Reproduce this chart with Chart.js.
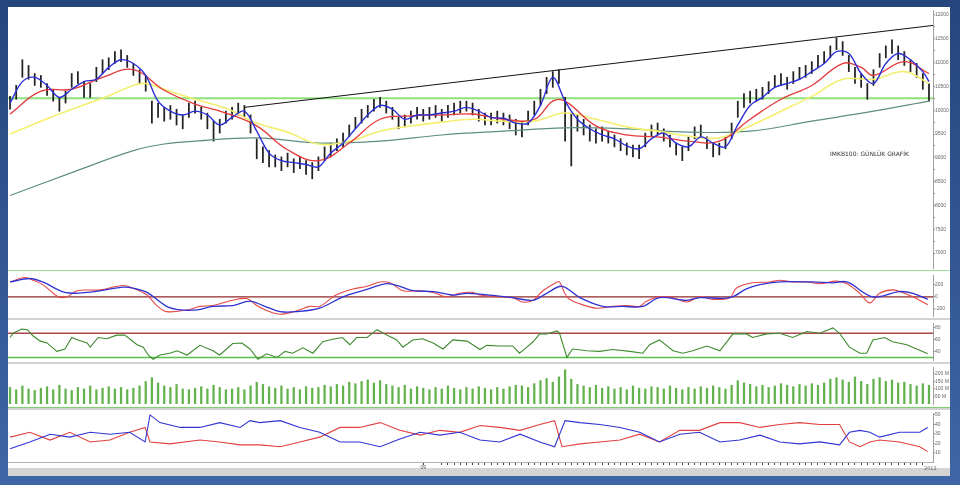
<!DOCTYPE html>
<html><head><meta charset="utf-8">
<script src="https://cdn.jsdelivr.net/npm/chart.js@4"></script>
<style>
body{margin:0;width:960px;height:485px;overflow:hidden;background:linear-gradient(#25467c,#3e66a6);font-family:"DejaVu Sans",sans-serif;position:relative;}
#frame{position:absolute;left:8px;top:7px;width:942px;height:461px;background:#fff;}
#strip{position:absolute;left:8px;top:468px;width:942px;height:8px;background:#d4d4d4;}
.pane{position:absolute;left:8px;}
.sep{position:absolute;left:8px;width:942px;}
.txt{position:absolute;color:#333;white-space:nowrap;}
</style></head><body>
<div id="frame"></div>
<div id="strip"></div>
<canvas class="pane" id="cMain" width="942" height="265" style="top:7px"></canvas>
<canvas class="pane" id="cMacd" width="942" height="47" style="top:272px"></canvas>
<canvas class="pane" id="cRsi" width="942" height="43" style="top:320px"></canvas>
<canvas class="pane" id="cVol" width="942" height="43" style="top:364px"></canvas>
<canvas class="pane" id="cDmi" width="942" height="60" style="top:410px"></canvas>
<div class="sep" style="top:270px;height:1px;background:#9fe39a"></div>
<div class="sep" style="top:318px;height:2px;background:#d2d2d2"></div>
<div class="sep" style="top:362px;height:2px;background:#d2d2d2"></div>
<div class="sep" style="top:407px;height:1px;background:#7fcf70"></div>
<div class="sep" style="top:408px;height:2px;background:#d2d2d2"></div>
<div class="txt" id="title" style="left:830px;top:150px;font-size:6px;">IMKB100: GÜNLÜK GRAFİK</div>
<div class="txt" style="left:924px;top:465px;font-size:5px;color:#666">2012</div>
<script>
// ---------- DATA ----------
const highs = [10290,10520,11060,10940,10770,10730,10560,10440,10270,10400,
10770,10810,10600,10560,10900,11060,11100,11230,11270,11150,
10980,10850,10730,10190,10150,10060,10100,10020,9900,10150,
10190,10060,9940,9770,9810,9980,10060,10150,10100,9900,
9400,9230,9150,9060,9020,9100,8980,9020,8940,8900,
9020,9230,9310,9400,9520,9690,9850,10020,10100,10230,
10270,10190,10060,9850,9900,9980,10060,10020,10060,10100,
10020,10100,10150,10190,10190,10150,10020,9940,9940,9980,
9940,9900,9810,9770,9980,10190,10440,10690,10810,10850,
10270,9940,9900,9810,9690,9610,9650,9560,9480,9400,
9310,9270,9270,9520,9690,9730,9610,9480,9310,9230,
9440,9650,9690,9440,9310,9310,9440,9730,10190,10350,
10400,10440,10480,10600,10730,10770,10690,10810,10900,10940,
11020,11150,11230,11350,11520,11440,11150,10900,10770,10560,
10850,11190,11350,11480,11350,11230,11060,10980,10770,10560];
const lows = [10020,10230,10690,10650,10520,10480,10310,10190,9980,10150,
10480,10560,10270,10270,10600,10770,10850,10980,11020,10900,
10730,10560,10400,9730,9850,9770,9810,9690,9610,9850,
9940,9810,9610,9350,9520,9730,9810,9900,9850,9520,
8980,8900,8810,8810,8730,8810,8690,8770,8650,8560,
8730,8940,9020,9150,9230,9440,9610,9730,9850,9980,
10060,9940,9810,9610,9650,9730,9810,9770,9810,9850,
9770,9850,9900,9940,9980,9900,9770,9690,9690,9730,
9690,9610,9480,9440,9690,9900,10100,10350,10480,10560,
9350,8830,9560,9480,9350,9310,9350,9310,9230,9150,
9060,9020,8980,9230,9440,9480,9350,9230,9060,8940,
9150,9400,9440,9190,9020,9060,9190,9400,9850,10060,
10150,10190,10230,10350,10480,10520,10440,10560,10650,10690,
10770,10900,10980,11100,11270,11150,10810,10560,10480,10230,
10520,10900,11100,11190,11060,10940,10810,10690,10440,10190];
const maShortIdx = [0,2,4,6,8,10,12,14,16,18,20,22,24,26,28,30,32,34,36,38,40,42,44,46,48,50,52,54,56,58,60,62,64,66,68,70,72,74,76,78,80,82,84,86,88,90,92,94,96,98,100,102,104,106,108,110,112,114,116,118,120,122,124,126,128,130,132,134,136,138,140,142,144,146,148,149];
const maShort = [10150,10600,10690,10520,10270,10440,10600,10650,10900,11060,10980,10730,10190,9980,9900,9980,9900,9690,9850,9980,9560,9100,8940,8900,8860,8810,9100,9310,9610,9900,10100,10020,9810,9900,9900,9940,9980,10060,9980,9850,9830,9730,9730,10100,10690,10190,9810,9610,9480,9400,9250,9190,9400,9520,9310,9230,9440,9310,9230,9690,10100,10270,10480,10560,10650,10810,10980,11230,11190,10770,10560,10980,11190,11060,10810,10600];
const maMidIdx = [0,5,10,15,20,25,30,35,40,45,50,55,60,65,70,75,80,85,88,90,95,100,105,110,115,120,125,130,135,138,140,145,149];
const maMid = [9920,10400,10440,10690,10850,10420,10130,9940,9670,9170,8940,9310,9810,9880,9900,9920,9810,9810,10190,10190,9670,9480,9440,9350,9350,9810,10230,10520,10980,10900,10730,11020,10770];
const maSlowIdx = [0,5,10,15,20,22,25,30,35,40,45,50,55,60,65,70,75,80,85,90,95,100,105,110,115,120,125,130,135,140,145,149];
const maSlow = [9500,9770,10020,10250,10520,10560,10440,10230,10040,9730,9540,9290,9350,9560,9670,9750,9810,9770,9770,9940,9810,9650,9560,9460,9420,9670,9980,10290,10650,10650,10810,10560];
const maLongIdx = [0,10,20,25,30,40,50,60,70,80,90,100,110,120,130,140,149];
const maLong = [8210,8690,9150,9290,9350,9420,9310,9350,9480,9560,9630,9610,9540,9560,9770,9980,10190];
const supportLevel = 10250;
const trendIdx = [38,149.65];
const trendVal = [10060,11780];
const priceTicks = [12000,11500,11000,10500,10000,9500,9000,8500,8000,7500,7000];

const macdIdx = [0,2.4,3.7,5.3,7.8,9.2,10.9,14.6,18.3,19.9,22.2,23.8,25.4,28.7,30.8,32.9,36.1,38.4,40,41.7,43.8,46.5,48.6,50.2,52.4,53.5,55.6,57.9,60,61.6,63.7,66.5,68.6,70.8,72.9,75,76.2,79.4,81.5,83.1,84.8,86.4,88.7,89.1,90.4,92.4,95.1,97.7,100,102.1,103.2,105.3,107.5,109.7,111.8,113.9,116.7,117.8,120.4,123.2,124.8,126.9,129.2,131.3,134,135.7,137.8,139.4,141,143.1,144.7,146.4,148.8];
const macd = [243,315,272,200,0,0,100,114,186,143,29,-143,-243,-215,-157,-143,-57,-29,-143,-229,-286,-229,-157,-157,0,57,129,172,243,229,100,100,72,0,57,72,29,0,-14,-86,-57,100,243,243,-14,-114,-186,-157,-143,-157,-72,0,-14,-86,0,-43,-14,143,229,243,272,243,243,215,257,215,57,-100,57,114,72,0,-129];
const signalIdx = [0,3.2,5.3,8.9,12.5,18.3,19.9,22.2,25.4,27.6,30.3,32.9,36.1,38.9,41,43.8,46.5,50.2,54,57.2,61.1,63.2,65.3,68.6,71.8,74.1,76.2,81.5,84.8,87,89.5,92.4,96.1,99.4,102.6,105.3,109.7,111.8,116.7,119.4,121.6,124.8,130.1,133.4,135.7,139.9,144.2,146.4,148.8];
const signal = [243,300,243,72,72,157,143,72,-157,-215,-215,-157,-143,-72,-143,-243,-243,-186,0,100,215,172,100,86,29,57,43,-14,-57,57,172,-14,-157,-157,-157,-14,-57,-14,-14,129,200,243,243,229,243,0,86,57,-43];
const macdTicks = [200,0,-200];

const rsiIdx = [0,0.5,1.9,2.8,3.7,4.9,6,7.6,8.9,10,11,12.5,13,14.3,15.7,17.3,18.6,20.6,21.6,22.4,23.2,24.3,25.9,27.1,28.7,30.8,32.9,34,36.1,37.6,38.9,40.2,41.6,43.3,44.6,45.8,47.5,49.1,50.7,52.3,53.9,55.1,56.2,57.9,59.5,61.1,62.7,63.7,65.3,66.9,68.6,70.2,71.8,74.1,76.2,77.3,79.4,81.5,82.6,83.8,84.8,85.9,87,88.7,89.1,90.3,91.2,93.5,95.6,97.7,100.5,102.6,103.7,105.3,107.5,109.1,110.7,113,115.1,117.2,119.4,120.4,122.7,124.8,126.9,129.2,131.3,133.4,134.5,136.1,137.8,138.9,139.9,141.8,143.1,145.4,147,148.8];
const rsi = [63,70,77,76,66,57,54,40,44,63,59,54,47,63,61,67,67,51,47,34,27,34,37,41,34,50,41,34,53,54,44,27,36,30,40,37,46,37,56,60,63,51,63,63,76,67,59,47,59,61,54,44,59,57,43,50,49,49,37,47,56,69,69,74,70,30,44,41,40,43,40,37,51,59,41,37,41,49,41,69,69,63,69,70,63,73,70,79,70,47,37,37,59,63,56,51,44,36];
const rsiUpper = 70, rsiLower = 30;
const rsiTicks = [80,60,40];

const volume = [110,95,120,100,90,105,115,95,125,100,
90,110,100,120,95,105,115,100,110,95,
105,120,150,175,140,120,110,130,100,95,
105,115,100,125,110,95,100,110,95,120,
145,130,115,105,120,100,110,95,115,105,
110,125,115,130,120,145,135,150,160,140,
155,130,120,110,125,100,115,105,95,110,
100,120,105,95,110,100,115,105,95,110,
100,115,125,120,110,135,155,170,145,180,
228,165,130,120,110,125,105,115,100,110,
95,120,105,100,115,110,100,120,105,95,
110,100,115,105,120,110,100,125,155,140,
130,115,125,110,120,135,125,115,130,120,
135,125,140,165,175,160,145,180,150,130,
165,175,150,160,140,145,130,120,135,125];
const volTicks = [200,150,100,50];

const diPlusIdx = [0,3.2,6.5,9.7,13,16.2,19.4,21.9,22.7,24.3,27.6,30.8,34,37.3,38.9,40.5,43.8,47,50.2,53.5,56.7,60,63.2,66.5,69.7,72.9,76.2,79.4,82.7,85.9,88.3,90,92.4,95.6,98.9,102.1,105.3,108.6,111.8,115.1,118.3,121.6,124.8,128,131.3,134.5,136.1,137.8,139.4,141,144.2,147.5,148.8];
const diPlus = [14.1,21.3,29.5,26.4,31.5,29.5,31.5,21.3,50,41.8,36.7,36.7,41.8,36.7,43.9,41.8,43.9,36.7,31.5,21.3,21.3,16.2,24.4,31.5,28.5,31.5,23.3,21.3,29.5,21.3,16.2,43.9,41.8,39.8,36.7,31.5,21.3,29.5,31.5,21.3,23.3,28.5,21.3,19.2,21.3,18.2,31.5,33.6,31.5,26.4,31.5,31.5,36.7];
const diMinusIdx = [0,3.2,6.5,9.7,13,16.2,19.4,21.9,22.7,25.9,30.8,34,37.3,40.5,43.8,47,50.2,53.5,56.7,60,63.2,66.5,69.7,72.9,76.2,79.4,82.7,85.9,88.3,89.5,92.4,95.6,98.9,102.1,105.3,108.6,111.8,115.1,118.3,121.6,124.8,128,131.3,134.5,136.1,137.8,139.4,141,144.2,147.5,148.8];
const diMinus = [26.4,31.5,23.3,31.5,21.3,23.3,31.5,36.7,21.3,19.2,23.3,21.3,18.2,18.2,16.2,21.3,26.4,36.7,36.7,41.8,33.6,28.5,33.6,31.5,38.7,36.7,33.6,39.8,43.9,16.2,19.2,21.3,23.3,29.5,21.3,33.6,33.6,41.8,41.8,36.7,39.8,41.8,39.8,39.8,21.3,16.2,21.3,23.3,21.3,16.2,11];
const dmiTicks = [50,40,30,20,10];
const xLabelIdx = [67];
const xLabelText = ['09'];

// ---------- HELPERS ----------
const X_MIN = -0.33, X_MAX = 149.65;
const pts = (idx, vals) => idx.map((x, i) => ({x, y: vals[i]}));
const flat = v => [{x: X_MIN, y: v}, {x: X_MAX, y: v}];
const FONT = {size: 5, family: 'Liberation Sans'};
function xAxis(show) {
  return {type: 'linear', min: X_MIN, max: X_MAX, offset: false, display: show,
    grid: {display: false}, ticks: {display: false}};
}
function yAxis(min, max, ticks, fmt) {
  return {position: 'right', min, max,
    afterBuildTicks: s => { s.ticks = ticks.map(v => ({value: v})); },
    afterFit: s => { s.width = 17; },
    border: {display: true, color: '#a0a0a0'},
    grid: {drawOnChartArea: false, drawTicks: true, tickLength: 2, color: '#8a8a8a'},
    ticks: {font: FONT, color: '#666', padding: 0, autoSkip: false, maxRotation: 0, callback: fmt}};
}
const base = {responsive: false, animation: false, events: [],
  plugins: {legend: {display: false}, tooltip: {enabled: false}},
  layout: {padding: 0}};
const line = (data, color, w, order, tension) => ({type: 'line', data, borderColor: color, borderWidth: w,
  pointRadius: 0, tension: tension || 0, order, fill: false});

// ---------- MAIN PRICE PANE ----------
const minorPrice = [];
for (let k = 0; k < priceTicks.length - 1; k++) minorPrice.push((priceTicks[k] + priceTicks[k + 1]) / 2);
new Chart(document.getElementById('cMain'), {
  type: 'bar',
  data: {datasets: [
    line(flat(supportLevel), '#8fe07f', 2, 9),
    {type: 'bar', data: highs.map((h, i) => ({x: i, y: [lows[i], h]})), backgroundColor: '#222',
      barThickness: 1.1, grouped: false, order: 6},
    line(pts(maLongIdx, maLong), '#5e8e80', 1.2, 5, 0.4),
    line(pts(maSlowIdx, maSlow), '#f4ef6e', 1.6, 4, 0.4),
    line(pts(maMidIdx, maMid), '#e5393a', 1.3, 3, 0.4),
    line(pts(maShortIdx, maShort), '#2b2fd6', 1.4, 2, 0.35),
    line(pts(trendIdx, trendVal), '#111', 1, 1)
  ]},
  options: Object.assign({}, base, {
    layout: {padding: {top: 1, bottom: 4}},
    scales: {x: xAxis(false),
      y: Object.assign(yAxis(6687, 12104, priceTicks.concat(minorPrice), v => priceTicks.includes(v) ? String(v) : ''))}
  })
});

// ---------- MACD PANE ----------
new Chart(document.getElementById('cMacd'), {
  type: 'line',
  data: {datasets: [
    line(flat(0), '#8e2a2a', 1.2, 5),
    line(pts(signalIdx, signal), '#2f33d4', 1.3, 2, 0.35),
    line(pts(macdIdx, macd), '#e54848', 1.1, 3, 0.35)
  ]},
  options: Object.assign({}, base, {scales: {x: xAxis(false), y: yAxis(-314, 357, macdTicks, v => String(v))}})
});

// ---------- RSI PANE ----------
new Chart(document.getElementById('cRsi'), {
  type: 'line',
  data: {datasets: [
    line(flat(rsiUpper), '#a84848', 1.5, 5),
    line(flat(rsiLower), '#5cc04f', 1.5, 5),
    line(pts(rsiIdx, rsi), '#3d8a2e', 1.1, 1)
  ]},
  options: Object.assign({}, base, {scales: {x: xAxis(false), y: yAxis(25.7, 87.1, rsiTicks, v => String(v))}})
});

// ---------- VOLUME PANE ----------
new Chart(document.getElementById('cVol'), {
  type: 'bar',
  data: {datasets: [
    {data: volume.map((v, i) => ({x: i, y: v})), backgroundColor: '#63b24d', barThickness: 1.6}
  ]},
  options: Object.assign({}, base, {scales: {x: xAxis(false), y: yAxis(0, 246, volTicks, v => v + ' M')}})
});

// ---------- DMI PANE ----------
const xTickList = [];
for (let k = 70; k <= 148; k++) xTickList.push(k);
new Chart(document.getElementById('cDmi'), {
  type: 'line',
  data: {datasets: [
    line(pts(diMinusIdx, diMinus), '#e24040', 1.1, 2),
    line(pts(diPlusIdx, diPlus), '#3035d2', 1.1, 1)
  ]},
  options: Object.assign({}, base, {scales: {
    x: {type: 'linear', min: X_MIN, max: X_MAX, offset: false, position: 'bottom',
      afterBuildTicks: s => { s.ticks = xLabelIdx.concat(xTickList).map(v => ({value: v})); },
      afterFit: s => { s.height = 8; },
      border: {display: true, color: '#b0b0b0'},
      grid: {drawOnChartArea: false, drawTicks: true, tickLength: 3, color: '#444'},
      ticks: {font: FONT, color: '#555', padding: 0, autoSkip: false, maxRotation: 0,
        callback: v => { const k = xLabelIdx.indexOf(v); return k >= 0 ? xLabelText[k] : ''; }}},
    y: yAxis(0, 52, dmiTicks, v => String(v))
  }})
});
</script>
</body></html>
